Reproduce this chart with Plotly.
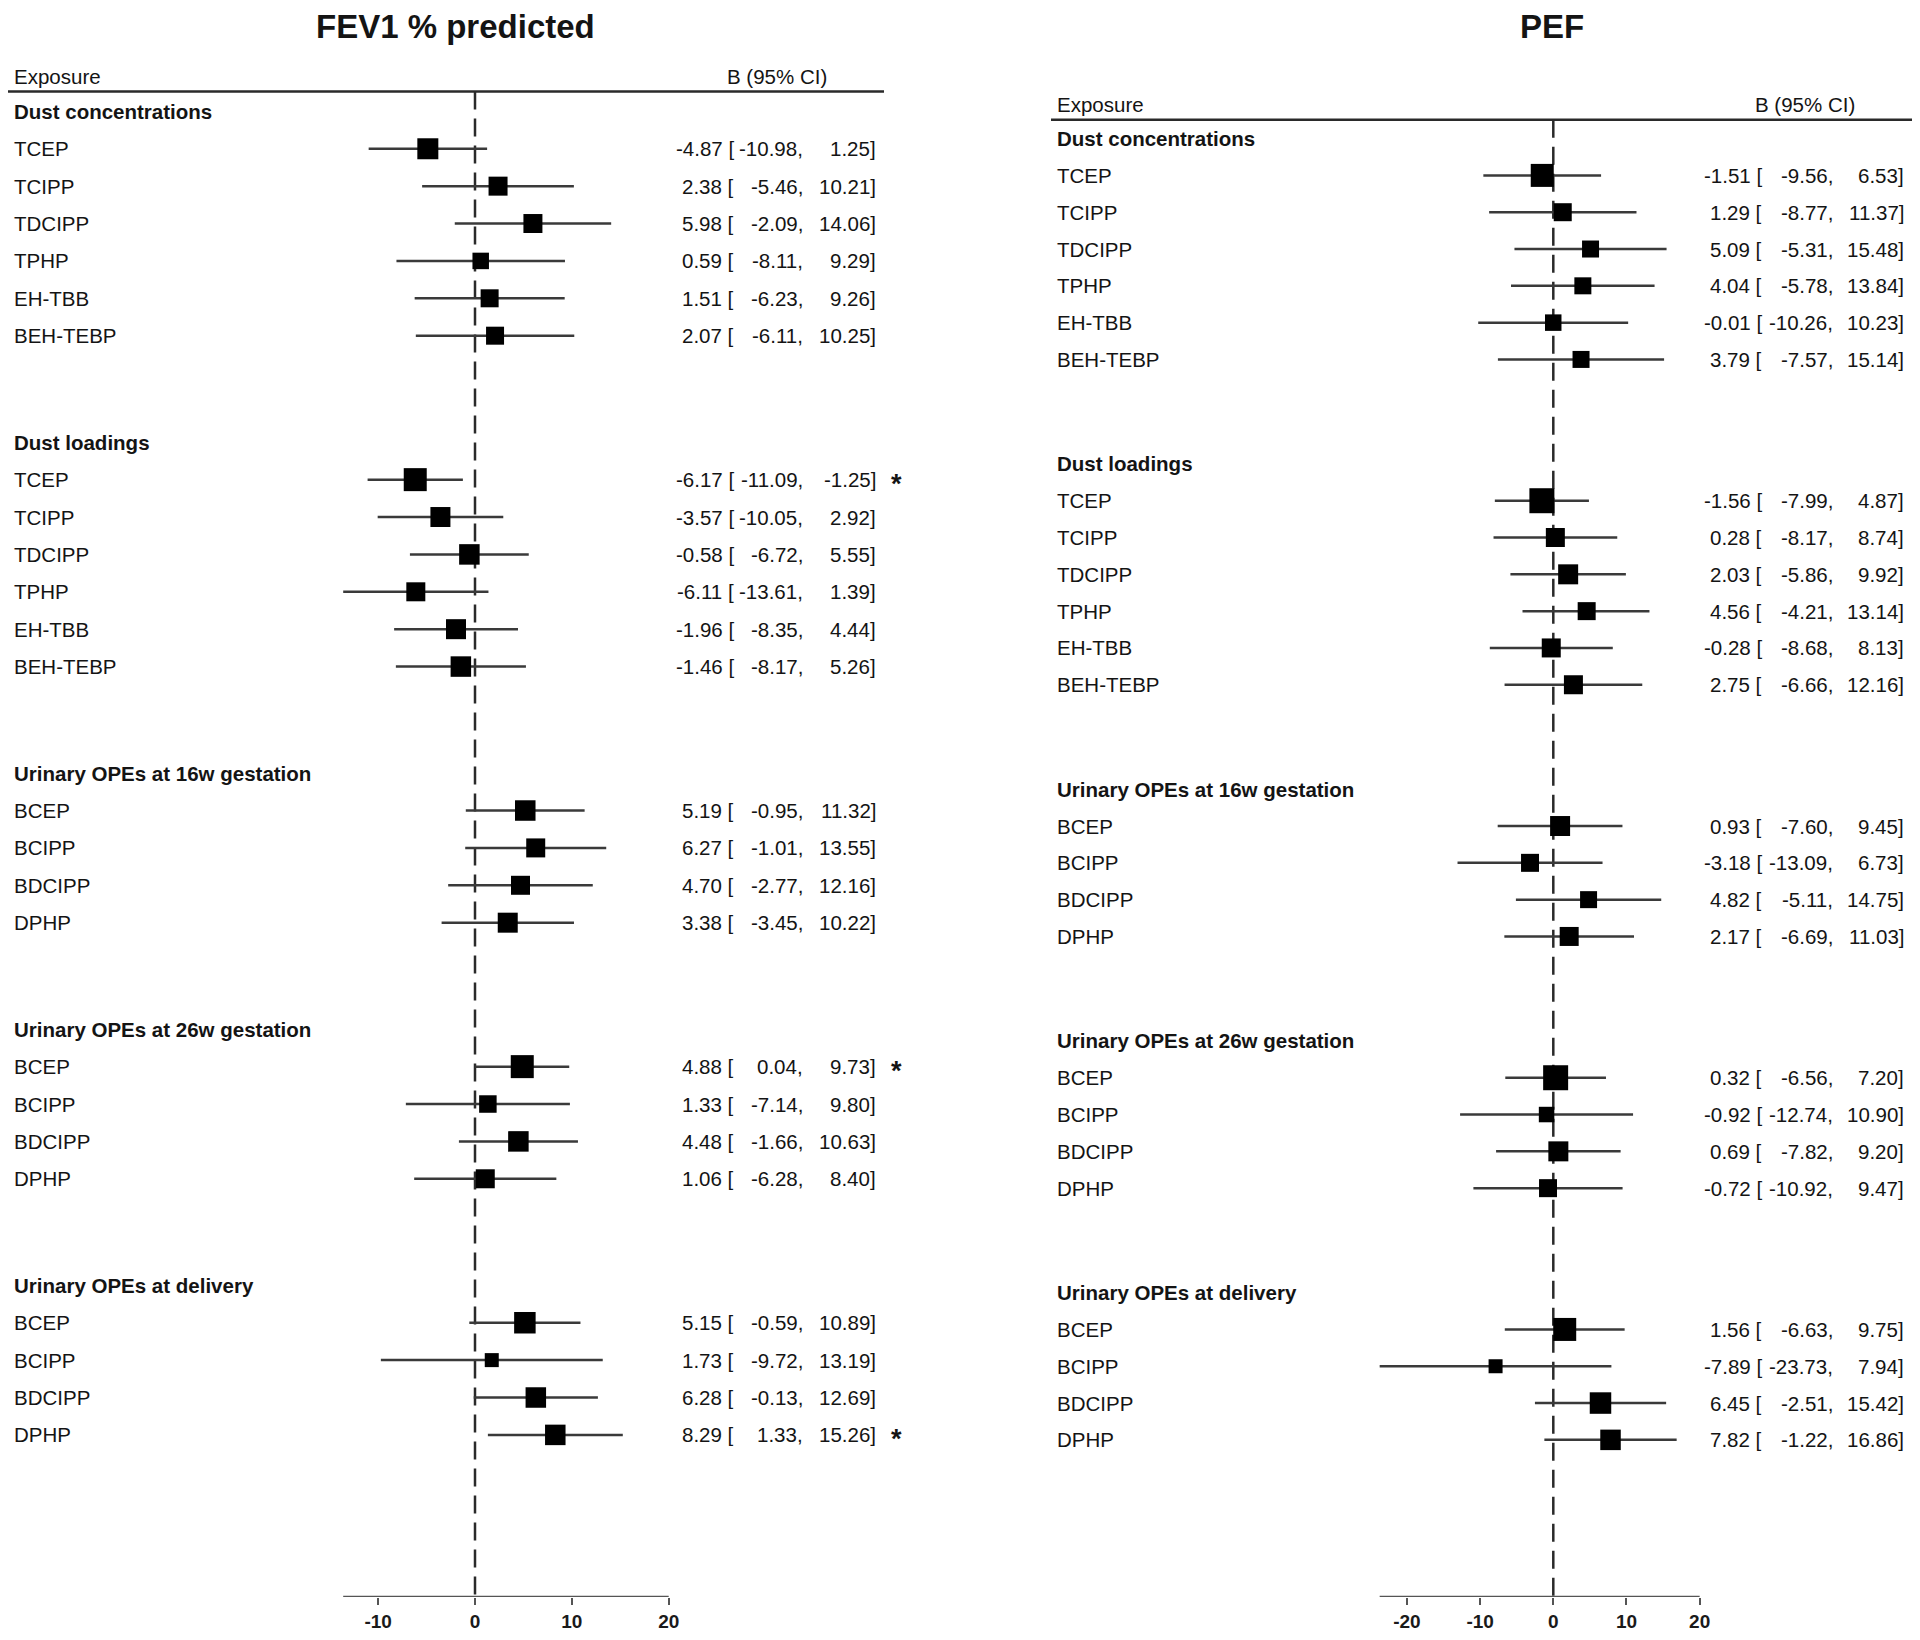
import plotly.graph_objects as go

# ---------------- data ----------------
GROUPS = ["Dust concentrations", "Dust loadings", "Urinary OPEs at 16w gestation",
          "Urinary OPEs at 26w gestation", "Urinary OPEs at delivery"]
DUST = ["TCEP", "TCIPP", "TDCIPP", "TPHP", "EH-TBB", "BEH-TEBP"]
URINE = ["BCEP", "BCIPP", "BDCIPP", "DPHP"]
GROUP_ITEMS = [DUST, DUST, URINE, URINE, URINE]

fev_est = [-4.87, 2.38, 5.98, 0.59, 1.51, 2.07,
           -6.17, -3.57, -0.58, -6.11, -1.96, -1.46,
           5.19, 6.27, 4.70, 3.38,
           4.88, 1.33, 4.48, 1.06,
           5.15, 1.73, 6.28, 8.29]
fev_lo = [-10.98, -5.46, -2.09, -8.11, -6.23, -6.11,
          -11.09, -10.05, -6.72, -13.61, -8.35, -8.17,
          -0.95, -1.01, -2.77, -3.45,
          0.04, -7.14, -1.66, -6.28,
          -0.59, -9.72, -0.13, 1.33]
fev_hi = [1.25, 10.21, 14.06, 9.29, 9.26, 10.25,
          -1.25, 2.92, 5.55, 1.39, 4.44, 5.26,
          11.32, 13.55, 12.16, 10.22,
          9.73, 9.80, 10.63, 8.40,
          10.89, 13.19, 12.69, 15.26]
fev_sig = [0, 0, 0, 0, 0, 0,
           1, 0, 0, 0, 0, 0,
           0, 0, 0, 0,
           1, 0, 0, 0,
           0, 0, 0, 1]
fev_box = [21, 19, 19, 16.5, 18, 18,
           23, 20, 20.5, 19, 20, 20.5,
           20.5, 19, 19, 20,
           23, 17.5, 20.5, 19,
           21.5, 14, 20.5, 20.5]

pef_est = [-1.51, 1.29, 5.09, 4.04, -0.01, 3.79,
           -1.56, 0.28, 2.03, 4.56, -0.28, 2.75,
           0.93, -3.18, 4.82, 2.17,
           0.32, -0.92, 0.69, -0.72,
           1.56, -7.89, 6.45, 7.82]
pef_lo = [-9.56, -8.77, -5.31, -5.78, -10.26, -7.57,
          -7.99, -8.17, -5.86, -4.21, -8.68, -6.66,
          -7.60, -13.09, -5.11, -6.69,
          -6.56, -12.74, -7.82, -10.92,
          -6.63, -23.73, -2.51, -1.22]
pef_hi = [6.53, 11.37, 15.48, 13.84, 10.23, 15.14,
          4.87, 8.74, 9.92, 13.14, 8.13, 12.16,
          9.45, 6.73, 14.75, 11.03,
          7.20, 10.90, 9.20, 9.47,
          9.75, 7.94, 15.42, 16.86]
pef_sig = [0] * 24
pef_box = [23, 18, 17, 17, 16.5, 17,
           25, 19, 20, 18, 19, 19,
           20, 18, 17, 19,
           25, 15.5, 20, 18,
           23, 14, 21.5, 20.5]

LEFT_TICKS = [-10, 0, 10, 20]
RIGHT_TICKS = [-20, -10, 0, 10, 20]

# ---------------- layout constants (screen pixels) ----------------
OFF = 8                      # default page margin of the html body
W, H = 1920 - 2 * OFF, 1640 - 2 * OFF
AXIS_Y = 1602
FONT = "Liberation Sans, Arial, sans-serif"
TXT = "#141414"
LINE = "#3a3a3a"

panels = [
    dict(title="FEV1 % predicted", est=fev_est, lo=fev_lo, hi=fev_hi, sig=fev_sig, box=fev_box,
         ticks=LEFT_TICKS, xa="x", dom=(OFF, 960), zero=475.0, ppu=9.685,
         title_px=455, label_px=13, bracket_px=735, comma_px=804, end_px=877, star_px=896,
         ci_head_px=828, hline=(7, 884), hline_y=91.7, head_y=76.7,
         h1=111.7, step=37.5, gap=106.9),
    dict(title="PEF", est=pef_est, lo=pef_lo, hi=pef_hi, sig=pef_sig, box=pef_box,
         ticks=RIGHT_TICKS, xa="x2", dom=(960, 1920 - OFF), zero=1553.3, ppu=7.317,
         title_px=1552, label_px=1056, bracket_px=1763, comma_px=1834, end_px=1905, star_px=1922,
         ci_head_px=1856, hline=(1051, 1913), hline_y=120, head_y=105,
         h1=139.0, step=36.92, gap=104.8),
]

fig = go.Figure()
annotations = []

for p in panels:
    def d(px, p=p):
        return (px - p["zero"]) / p["ppu"]

    xa = p["xa"]
    ya = "y"
    # row positions
    header_y, row_y, names = [], [], []
    y = p["h1"]
    last = None
    for gi, items in enumerate(GROUP_ITEMS):
        if gi > 0:
            y = last + p["gap"]
        header_y.append(y)
        for nm in items:
            y += p["step"]
            row_y.append(y)
            names.append(nm)
        last = y

    # header line
    fig.add_trace(go.Scatter(x=[d(p["hline"][0]), d(p["hline"][1])], y=[p["hline_y"]] * 2,
                             mode="lines", line=dict(color="#2a2a2a", width=2.5),
                             xaxis=xa, yaxis=ya, showlegend=False, hoverinfo="skip",
                             cliponaxis=False))
    # null line
    fig.add_trace(go.Scatter(x=[0, 0], y=[p["hline_y"], AXIS_Y], mode="lines",
                             line=dict(color="#2a2a2a", width=2.5, dash="18px,9px"),
                             xaxis=xa, yaxis=ya, showlegend=False, hoverinfo="skip"))
    # axis line
    fig.add_trace(go.Scatter(x=[min(p["lo"]), max(p["ticks"])], y=[AXIS_Y] * 2, mode="lines",
                             line=dict(color="#555555", width=2.5),
                             xaxis=xa, yaxis=ya, showlegend=False, hoverinfo="skip",
                             cliponaxis=False))
    # whiskers
    wx, wy = [], []
    for lo, hi, yy in zip(p["lo"], p["hi"], row_y):
        wx += [lo, hi, None]
        wy += [yy, yy, None]
    fig.add_trace(go.Scatter(x=wx, y=wy, mode="lines", line=dict(color=LINE, width=2.5),
                             xaxis=xa, yaxis=ya, showlegend=False, hoverinfo="skip"))
    # boxes
    fig.add_trace(go.Scatter(x=p["est"], y=row_y, mode="markers",
                             marker=dict(symbol="square", size=p["box"], color="#000000",
                                         opacity=1, line=dict(width=0)),
                             xaxis=xa, yaxis=ya, showlegend=False))

    # texts
    def ann(text, px, yy, anchor, size=20.5, weight="normal", xref=xa, d=d):
        annotations.append(dict(text=text, x=d(px), y=yy, xref=xref, yref="y",
                                xanchor=anchor, yanchor="middle", showarrow=False,
                                borderpad=0, font=dict(family=FONT, size=size, color=TXT,
                                                       weight=weight)))

    ann(p["title"], p["title_px"], 27, "center", size=33, weight="bold")
    ann("Exposure", p["label_px"], p["head_y"], "left")
    ann("B (95% CI)", p["ci_head_px"], p["head_y"], "right")
    for g, yy in zip(GROUPS, header_y):
        ann(g, p["label_px"], yy, "left", weight="bold")
    for nm, yy, e, lo, hi, s in zip(names, row_y, p["est"], p["lo"], p["hi"], p["sig"]):
        ann(nm, p["label_px"], yy, "left")
        ann(f"{e:.2f} [", p["bracket_px"], yy, "right")
        ann(f"{lo:.2f},", p["comma_px"], yy, "right")
        ann(f"{hi:.2f}]", p["end_px"], yy, "right")
        if s:
            ann("*", p["star_px"], yy + 4, "center", size=27, weight="bold")

    axis = dict(domain=[(p["dom"][0] - OFF) / W, (p["dom"][1] - OFF) / W],
                range=[d(p["dom"][0]), d(p["dom"][1])],
                anchor="y", showgrid=False, zeroline=False, showline=False,
                tickmode="array", tickvals=p["ticks"],
                ticktext=[str(t) for t in p["ticks"]],
                ticks="outside", ticklen=7,
                tickwidth=2, tickcolor="#555555",
                tickfont=dict(family=FONT, size=19, color="#1a1a1a", weight="bold"))
    if xa == "x":
        fig.update_layout(xaxis=axis)
    else:
        fig.update_layout(xaxis2=axis)

fig.update_layout(
    width=W, height=H,
    margin=dict(l=0, r=0, t=0, b=0),
    paper_bgcolor="white", plot_bgcolor="white",
    yaxis=dict(domain=[(H - (AXIS_Y - OFF)) / H, 1], range=[AXIS_Y, OFF], visible=False,
               anchor="x"),
    annotations=annotations,
    showlegend=False,
)

fig.write_html("out.html", config={"displayModeBar": False, "responsive": False})
